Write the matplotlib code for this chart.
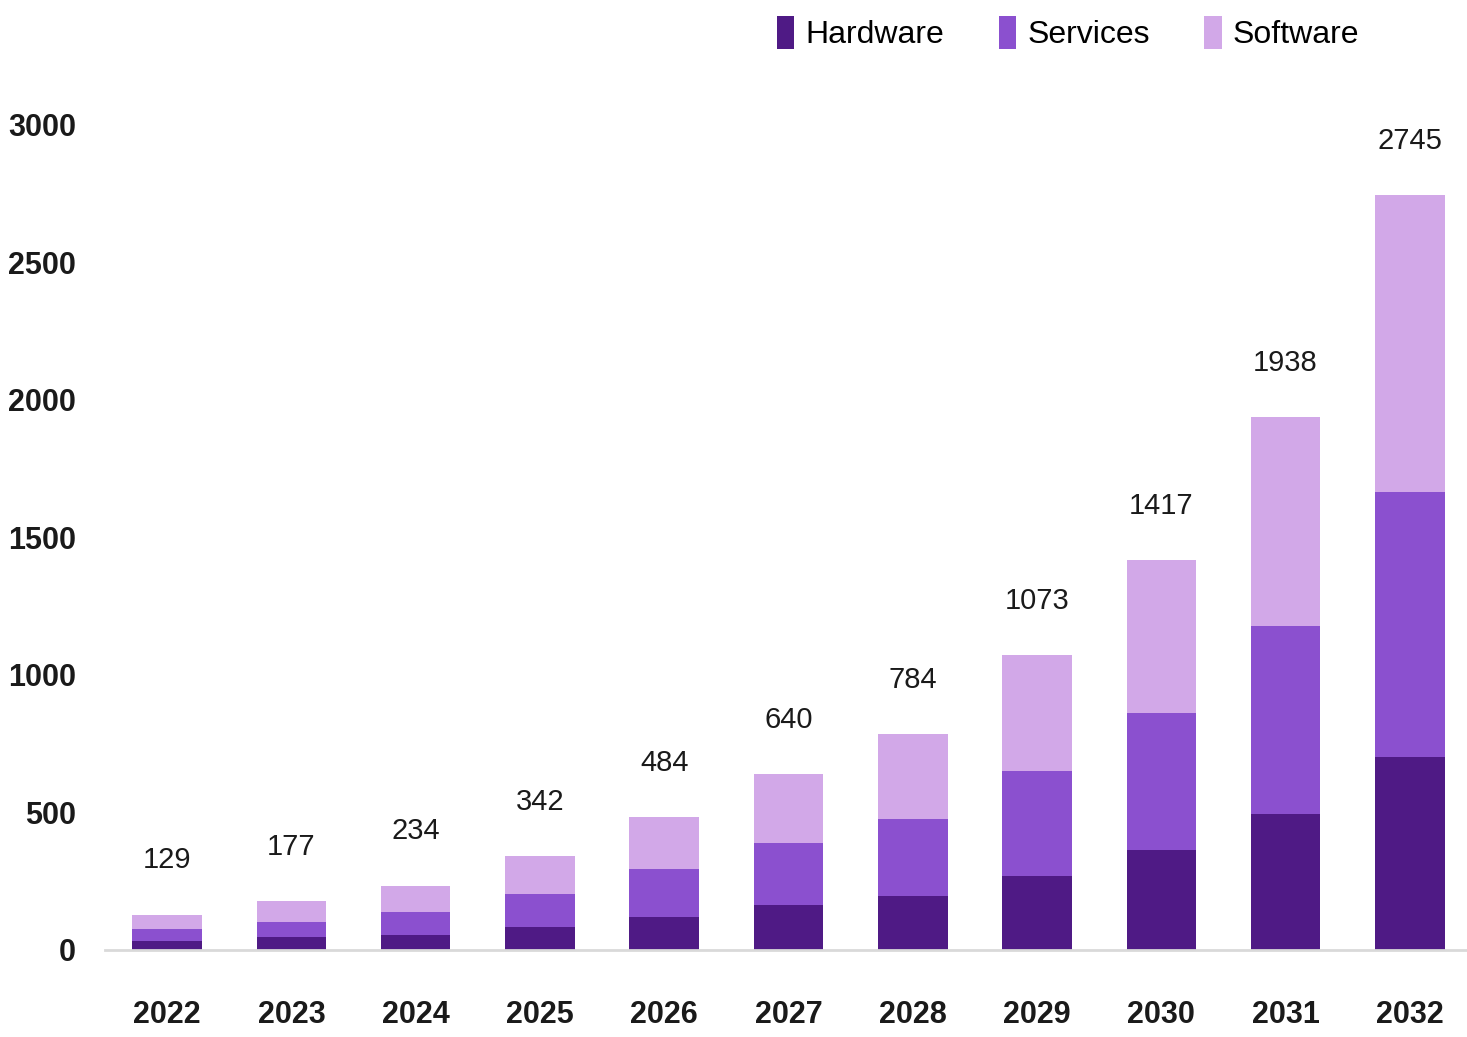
#!/usr/bin/env python3
"""
Stacked market-size bars by segment, 2022-2032.
"""

import matplotlib

matplotlib.use("Agg")
import matplotlib.pyplot as plt
from matplotlib import font_manager
import numpy as np


YEARS = ["2022", "2023", "2024", "2025", "2026", "2027", "2028", "2029", "2030", "2031", "2032"]
HARDWARE = [34, 46, 55, 83, 119, 164, 196, 270, 362, 495, 701]
SERVICES = [42, 56, 83, 121, 176, 226, 279, 381, 500, 683, 966]
SOFTWARE = [53, 75, 96, 138, 189, 250, 309, 422, 555, 760, 1078]
SEGMENTS = ["Hardware", "Services", "Software"]
Y_TICKS = [0, 500, 1000, 1500, 2000, 2500, 3000]

COLORS = {"Hardware": "#4f1a85", "Services": "#8b50cf", "Software": "#d2a8e8"}


def pick_font() -> str:
    installed = {f.name for f in font_manager.fontManager.ttflist}
    for name in ["Liberation Sans Narrow", "DejaVu Sans Condensed", "Liberation Sans"]:
        if name in installed:
            return name
    return "DejaVu Sans"


def main() -> None:
    font = pick_font()
    plt.rcParams["font.family"] = [font, "DejaVu Sans"]

    fig = plt.figure(figsize=(14.67, 10.37), dpi=100)
    ax = fig.add_axes([0.0716, 0.0839, 0.9284, 0.7956])

    x = np.arange(len(YEARS))
    width = 0.56
    bottom = np.zeros(len(YEARS))
    for name, values in zip(SEGMENTS, [HARDWARE, SERVICES, SOFTWARE]):
        ax.bar(x, values, width, bottom=bottom, color=COLORS[name], label=name, zorder=2)
        bottom += np.array(values)

    for xi, total in zip(x, bottom):
        ax.annotate(
            f"{int(total)}",
            (xi, total),
            xytext=(0, 29),
            textcoords="offset points",
            ha="center",
            va="bottom",
            fontsize=21,
            color="#1a1a1a",
        )

    ax.set_xlim(-0.5, 10.46)
    ax.set_ylim(0, 3000)
    ax.set_xticks(x, YEARS)
    ax.set_yticks(Y_TICKS, [str(v) for v in Y_TICKS])
    ax.tick_params(axis="x", length=0, pad=36, labelsize=22)
    ax.tick_params(axis="y", length=0, pad=21, labelsize=22)
    for label in ax.get_xticklabels() + ax.get_yticklabels():
        label.set_fontweight("bold")
        label.set_color("#1a1a1a")

    for side in ["top", "right", "left"]:
        ax.spines[side].set_visible(False)
    ax.spines["bottom"].set_color("#d9d9d9")
    ax.spines["bottom"].set_linewidth(2)

    handles, labels = ax.get_legend_handles_labels()
    fig.legend(
        handles,
        labels,
        loc="center",
        bbox_to_anchor=(1068 / 1467, 1 - 33 / 1037),
        ncol=3,
        frameon=False,
        fontsize=23,
        handlelength=0.55,
        handleheight=1.2,
        handletextpad=0.35,
        columnspacing=1.7,
    )

    fig.savefig("out.png", dpi=100)
    plt.close(fig)


if __name__ == "__main__":
    main()
